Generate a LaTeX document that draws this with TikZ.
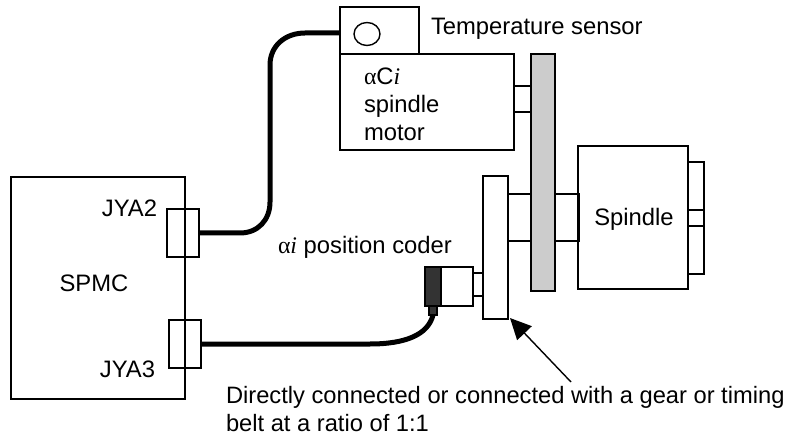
\documentclass[tikz,border=0pt]{standalone}
\usepackage{fontspec}
\setmainfont{Liberation Sans}
\newfontfamily\symfont{Liberation Serif}
\usetikzlibrary{arrows.meta,shapes.geometric}
\newcommand{\rectnode}[6][]{%
  \pgfmathsetmacro{\rw}{#5-#3}\pgfmathsetmacro{\rh}{#6-#4}%
  \pgfmathsetmacro{\rcx}{(#3+#5)/2}\pgfmathsetmacro{\rcy}{(#4+#6)/2}%
  \node[partbox,minimum width=\rw pt,minimum height=\rh pt,#1] (#2) at (\rcx,\rcy) {};}
\newcommand{\symal}{{\symfont α}}
\newcommand{\symi}{{\symfont\itshape i}}
\tikzset{
  partbox/.style={draw=black,line width=1.4pt,inner sep=0pt,outer sep=0pt},
  cable/.style={line width=5pt,black},
  txt/.style={font=\fontsize{23.8}{28}\selectfont,inner sep=0pt,outer sep=0pt,text=black},
  pointer/.style={line width=1.4pt,-{Triangle[length=21pt,width=20pt]}}
}
\begin{document}
\begin{tikzpicture}[x=1pt,y=-1pt]
\useasboundingbox (0,0) rectangle (795,438);
% SPMC
\rectnode{spmc}{11}{177}{185}{399}
\rectnode{jyatwo}{167}{209}{199}{257}
\rectnode{jyathree}{169}{320}{201}{368}
% Motor
\rectnode{sensor}{340}{7}{419}{54}
\rectnode{motor}{340}{54}{514}{150}
\node[draw=black,line width=1.4pt,ellipse,minimum width=26pt,minimum height=23pt,inner sep=0pt] (lamp) at (367,34) {};
\rectnode{mshaft}{514}{86}{531}{112}
\rectnode[fill={rgb,255:red,204;green,204;blue,204}]{belt}{531}{54}{555}{291}
% Spindle
\rectnode{spindle}{578}{146}{688}{289}
\rectnode{sshaft}{555}{194}{579}{241}
\rectnode{cshaft}{508}{194}{531}{241}
\rectnode{endcap}{688}{162}{704}{274}
\rectnode{endcapmid}{688}{210}{704}{226}
\rectnode{disc}{483}{176}{508}{319}
% Coder
\rectnode[fill={rgb,255:red,51;green,51;blue,51}]{coderdark}{425}{267}{441}{306}
\rectnode{coderbody}{441}{267}{473}{306}
\rectnode{codershaft}{473}{273}{483}{296}
\rectnode[fill={rgb,255:red,51;green,51;blue,51}]{plug}{429}{306}{437}{315}
% Cables
\draw[cable] (jyatwo.east) -- (240,233) .. controls (258,233) and (270,220) .. (270,202) -- (270,65) .. controls (270,46) and (285,33) .. (305,33) -- (sensor.west |- 0,33);
\draw[cable] (jyathree.east) -- (370,344) .. controls (405,344) and (428,335) .. (plug.south);
% Arrow
\coordinate (arrowstart) at (571,382);
\coordinate (arrowtip) at (510,318);
\draw[pointer] (arrowstart) -- (arrowtip);
% Labels
\node[txt,anchor=base west] (tlabel) at (431,35) {Temperature sensor};
\node[txt,anchor=north west,align=left] (mlabel) at (364,68) {\symal C\symi\\spindle\\motor};
\node[txt,anchor=base] (spl) at (634,226) {Spindle};
\node[txt,anchor=base east] (j2) at (157,217) {JYA2};
\node[txt,anchor=base east] (j3) at (155,377) {JYA3};
\node[txt,anchor=base] (sp) at (94,292) {SPMC};
\node[txt,anchor=base west] (pc) at (278,254) {\symal\symi\ position coder};
\node[txt,font=\fontsize{23.7}{28}\selectfont,anchor=north west,align=left] (note) at (226,386) {Directly connected or connected with a gear or timing\\belt at a ratio of 1:1};
\end{tikzpicture}
\end{document}
